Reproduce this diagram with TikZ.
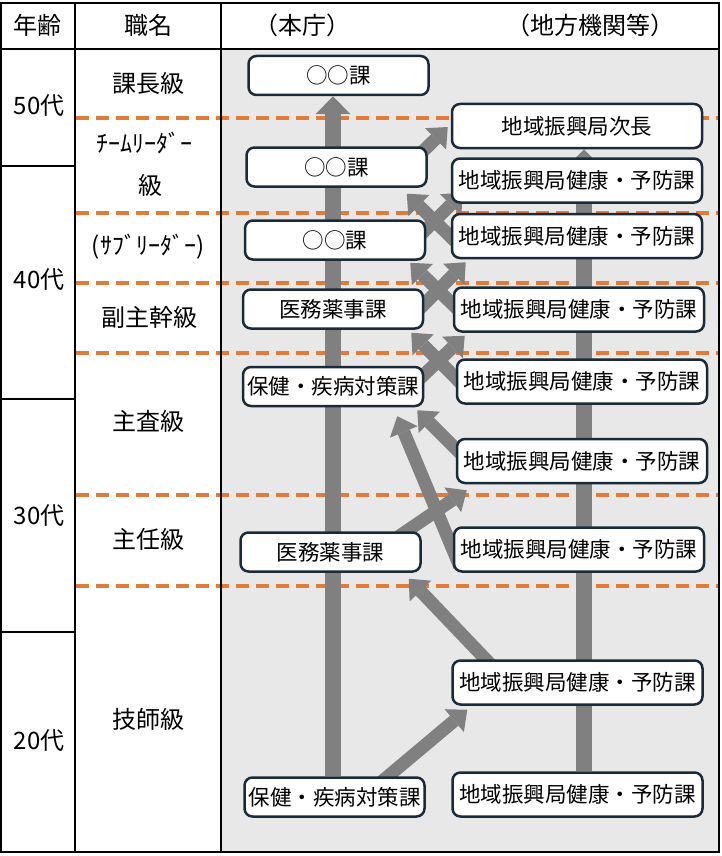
\documentclass[tikz,border=0pt]{standalone}
\usepackage{fontspec}
\setmainfont{Noto Sans CJK JP}
\usetikzlibrary{arrows.meta}
\definecolor{boxline}{HTML}{1B2A38}
\definecolor{bargrey}{HTML}{808080}
\definecolor{bggrey}{HTML}{E8E8E8}
\definecolor{dashorange}{HTML}{E07B3A}
\newcommand{\boxfont}{\fontsize{21.5}{26}\selectfont}
\newcommand{\labfont}{\fontsize{24}{28}\selectfont}
\pgfdeclarelayer{back}
\pgfdeclarelayer{mid}
\pgfsetlayers{back,mid,main}
\begin{document}
\begin{tikzpicture}[x=1pt,y=-1pt,
    honcho/.style={draw=boxline,fill=white,line width=2.5pt,rounded corners=8pt,
      minimum width=180pt,minimum height=39pt,inner sep=0pt,font=\boxfont},
    chiho/.style={honcho,minimum width=250pt,minimum height=44pt},
    bar/.style={draw=bargrey,line width=15.5pt,-{Triangle[width=35pt,length=18pt,line width=0pt]}},
    slant/.style={draw=bargrey,line width=13pt,-{Triangle[width=30pt,length=17pt,line width=0pt]}},
    grade/.style={draw=dashorange,line width=4pt,dash pattern=on 13pt off 7pt},
    lab/.style={font=\labfont,inner sep=0pt}]
    \useasboundingbox (0,0) rectangle (722,856);
    \begin{pgfonlayer}{back}
    \fill[bggrey] (221,49) rectangle (719,852);
    % grade boundaries
    \foreach \y in {118,213,283,353,495,586}
      \draw[grade] (76,\y) -- (719,\y);
    \end{pgfonlayer}
    % table
    \draw[line width=2pt] (1,3) rectangle (719,852);
    \draw[line width=2pt] (1,49) -- (719,49);
    \draw[line width=2pt] (75,3) -- (75,852);
    \draw[line width=1.5pt] (221,3) -- (221,852);
    \foreach \y in {166,399,632}
      \draw[line width=2pt] (1,\y) -- (75,\y);
    % header
    \node[lab] (hdage) at (37.5,25) {年齢};
    \node[lab] (hdpost) at (148,25) {職名};
    \node[lab] (hdhq) at (302,25) {（本庁）};
    \node[lab] (hdlocal) at (590,25) {（地方機関等）};
    % ages
    \node[lab] (age50) at (39,106) {50代};
    \node[lab] (age40) at (39,280) {40代};
    \node[lab] (age30) at (39,516) {30代};
    \node[lab] (age20) at (39,741) {20代};
    % posts
    \node[lab] (kacho) at (148,83) {課長級};
    \node[lab] (team) at (144,143) {ﾁｰﾑﾘｰﾀﾞｰ};
    \node[lab] (teamkyu) at (150,185) {級};
    \node[lab] (sub) at (148,247) {(ｻﾌﾞﾘｰﾀﾞｰ)};
    \node[lab] (fukushukan) at (149,317) {副主幹級};
    \node[lab] (shusa) at (148,421) {主査級};
    \node[lab] (shunin) at (148,539) {主任級};
    \node[lab] (gishi) at (148,719) {技師級};
    % honcho boxes
    \node[honcho] (L1) at (338.5,75.5) {○○課};
    \node[honcho] (L2) at (336.5,167) {○○課};
    \node[honcho] (L3) at (335,240) {○○課};
    \node[honcho] (L4) at (333,309) {医務薬事課};
    \node[honcho] (L5) at (333,386.5) {保健・疾病対策課};
    \node[honcho] (L6) at (330.5,552) {医務薬事課};
    \node[honcho] (L7) at (334.5,797) {保健・疾病対策課};
    % chiho boxes
    \node[chiho] (R1) at (577,126) {地域振興局次長};
    \node[chiho] (R2) at (577,180.5) {地域振興局健康・予防課};
    \node[chiho] (R3) at (577,236) {地域振興局健康・予防課};
    \node[chiho] (R4) at (579,309.5) {地域振興局健康・予防課};
    \node[chiho] (R5) at (582,381.5) {地域振興局健康・予防課};
    \node[chiho] (R6) at (582,461) {地域振興局健康・予防課};
    \node[chiho] (R7) at (579,549.5) {地域振興局健康・予防課};
    \node[chiho] (R8) at (577.5,682.5) {地域振興局健康・予防課};
    \node[chiho] (R9) at (577.5,794.5) {地域振興局健康・予防課};
    % arrows
    \begin{pgfonlayer}{mid}
    \coordinate (lb) at ([xshift=-1.5pt]L7.north);
    \draw[bar] (lb) -- (lb |- L1.south);
    \coordinate (rb) at ([xshift=6.5pt]R9.north);
    \draw[bar] (rb) -- (rb |- R1.south);
    \draw[slant] ([xshift=-16pt,yshift=-16pt]L2.north east) -- ([xshift=-3pt,yshift=-1pt]R1.west);
    \draw[slant] ([xshift=9pt,yshift=-33pt]R3.north west) -- ([xshift=-21pt,yshift=-6pt]L2.south east);
    \draw[slant] ([xshift=-16pt,yshift=-26pt]L3.north east) -- ([xshift=12pt,yshift=11pt]R2.south west);
    \draw[slant] ([xshift=13pt,yshift=-31pt]R4.north west) -- ([xshift=-16pt,yshift=-2pt]L3.south east);
    \draw[slant] ([xshift=-14pt,yshift=-30pt]L4.north east) -- ([xshift=15pt,yshift=-3pt]R3.south west);
    \draw[slant] ([xshift=11pt,yshift=-31pt]R5.north west) -- ([xshift=-13pt,yshift=-3pt]L4.south east);
    \draw[slant] ([xshift=-15pt,yshift=-23pt]L5.north east) -- ([xshift=12pt,yshift=-3pt]R4.south west);
    \draw[slant] ([xshift=14pt,yshift=-25pt]R6.north west) -- ([xshift=-7pt,yshift=-3pt]L5.south east);
    \draw[slant] ([xshift=7pt,yshift=-40pt]R7.north west) -- ([xshift=-27pt,yshift=-9pt]L5.south east);
    \draw[slant] ([xshift=-30pt,yshift=-10pt]L6.north east) -- ([xshift=11pt,yshift=-6pt]R6.south west);
    \draw[slant] ([xshift=43pt,yshift=-9pt]R8.north west) -- ([xshift=-13pt,yshift=-6pt]L6.south east);
    \draw[slant] ([xshift=-46pt,yshift=-7pt]L7.north east) -- ([xshift=16pt,yshift=-4pt]R8.south west);
    \end{pgfonlayer}
\end{tikzpicture}
\end{document}
